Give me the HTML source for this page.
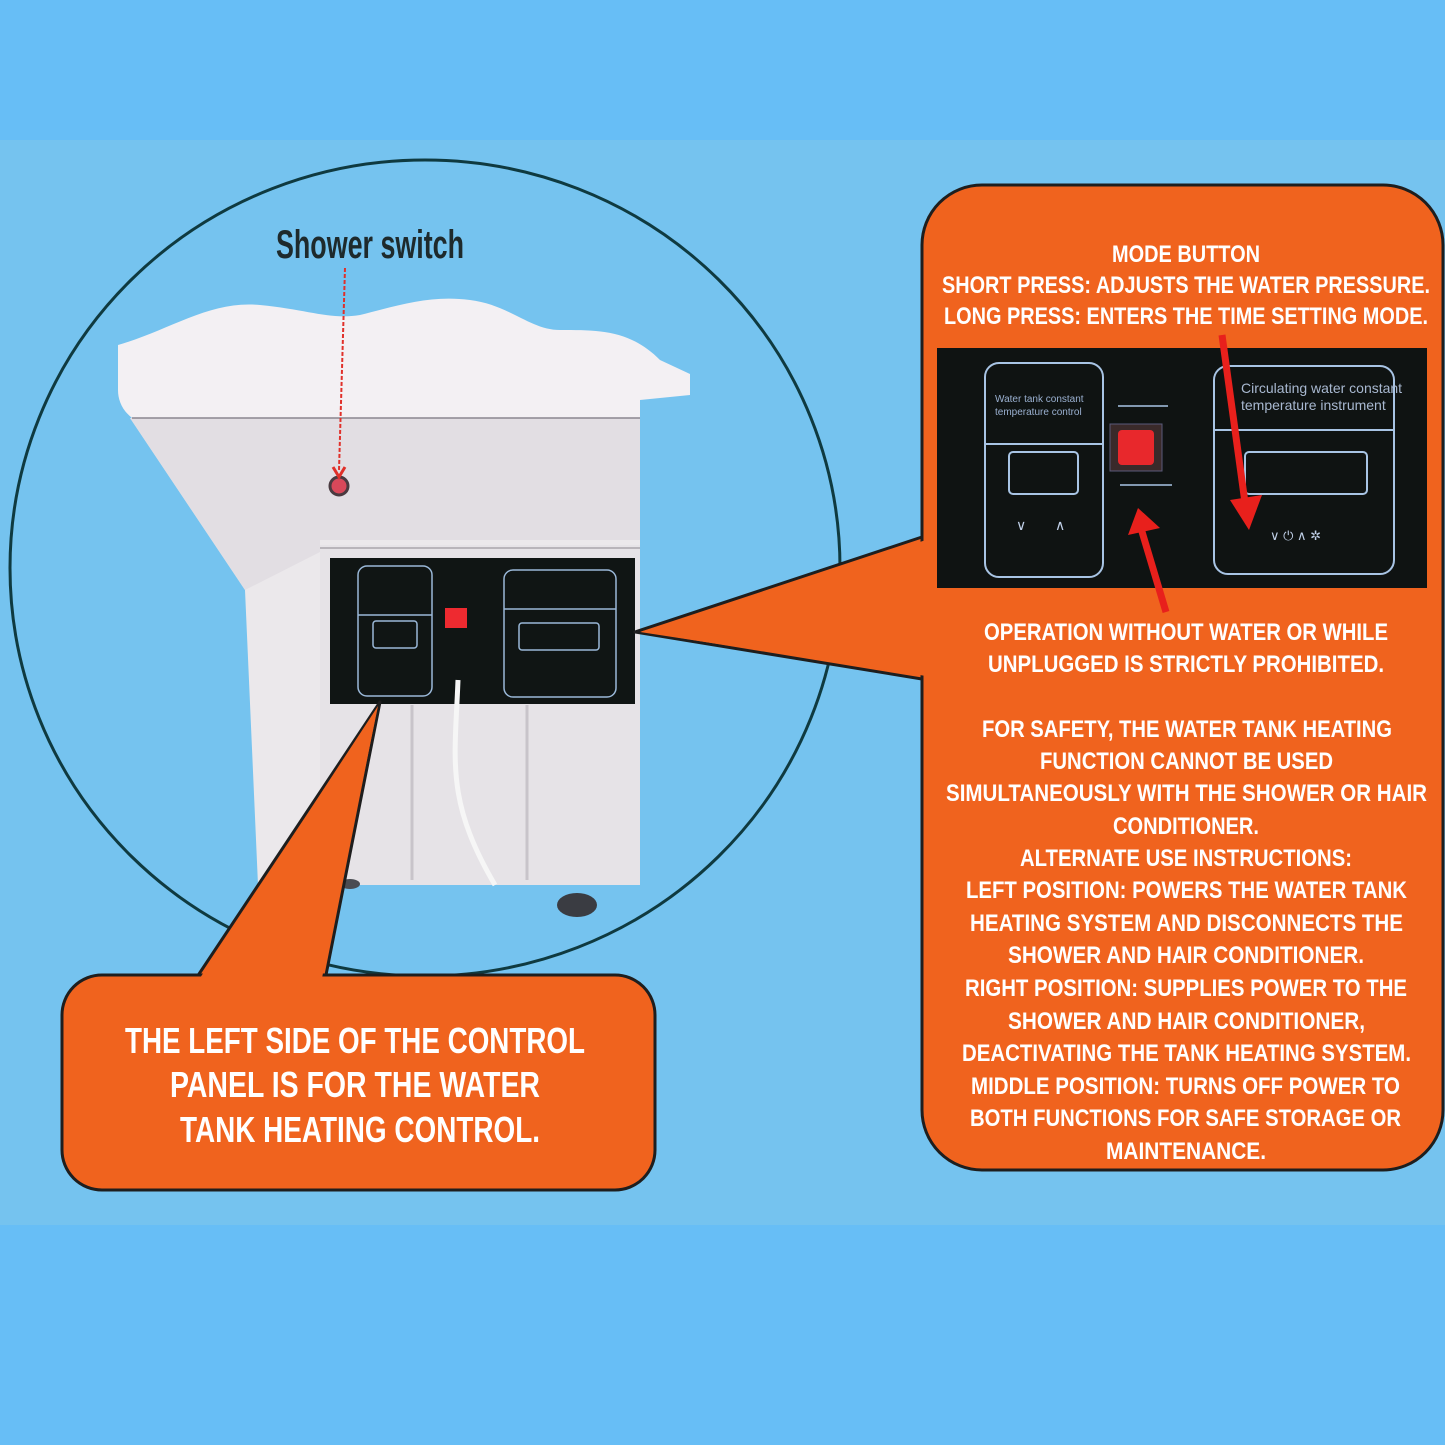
<!DOCTYPE html>
<html><head><meta charset="utf-8"><style>
html,body{margin:0;padding:0;}
body{width:1445px;height:1445px;overflow:hidden;background:#67bef6;}
svg{display:block;}
.w{fill:#fff;font-family:"Liberation Sans Narrow","Liberation Sans",sans-serif;font-weight:bold;}
</style></head><body>
<svg width="1445" height="1445" viewBox="0 0 1445 1445" xmlns="http://www.w3.org/2000/svg">
<rect x="0" y="0" width="1445" height="140" fill="#67bef6"/>
<rect x="0" y="140" width="1445" height="1085" fill="#75c3ef"/>
<rect x="0" y="1225" width="1445" height="220" fill="#67bef6"/>

<ellipse cx="425" cy="568" rx="415" ry="408" fill="none" stroke="#0f3a40" stroke-width="3"/>

<!-- machine body -->
<path d="M130,418 L245,590 L258,885 L640,885 L640,418 Z" fill="#ebe8eb"/>
<path d="M130,418 L640,418 L640,540 L320,540 L320,552 L245,590 Z" fill="#e2dee3"/>
<path d="M118,345 C170,330 210,300 260,305 C310,310 330,320 360,315 C400,305 430,295 470,300 C510,305 530,330 560,330 C600,330 630,330 660,360 L690,374 L690,395 L640,400 L640,418 L132,418 C122,410 118,400 118,390 Z" fill="#f3f0f3"/>
<path d="M132,418 L640,418" stroke="#8a8690" stroke-width="1.5"/>
<rect x="320" y="545" width="320" height="340" fill="#e6e3e7"/>
<line x1="320" y1="548" x2="640" y2="548" stroke="#b8b4ba" stroke-width="2"/>
<line x1="412" y1="705" x2="412" y2="880" stroke="#c8c4ca" stroke-width="3"/>
<line x1="527" y1="705" x2="527" y2="880" stroke="#c8c4ca" stroke-width="3"/>
<ellipse cx="577" cy="905" rx="20" ry="12" fill="#3a3c42"/>
<ellipse cx="350" cy="884" rx="10" ry="5" fill="#4a4c52"/>
<circle cx="339" cy="486" r="9" fill="#d8485a" stroke="#4a3a40" stroke-width="3"/>
<line x1="345" y1="268" x2="339" y2="470" stroke="#e0302a" stroke-width="2" stroke-dasharray="4,2"/>
<path d="M333,467 L339,477 L345,467" fill="none" stroke="#e0302a" stroke-width="3"/>
<text x="276" y="258" font-family="Liberation Sans Narrow,Liberation Sans,sans-serif" font-weight="bold" font-size="40" fill="#1e2a2c" textLength="188" lengthAdjust="spacingAndGlyphs">Shower switch</text>

<rect x="330" y="558" width="305" height="146" fill="#101514"/>
<rect x="358" y="566" width="74" height="130" rx="9" fill="none" stroke="#9ab8d8" stroke-width="1.5"/>
<line x1="358" y1="615" x2="432" y2="615" stroke="#9ab8d8" stroke-width="1.5"/>
<rect x="373" y="621" width="44" height="27" rx="3" fill="none" stroke="#9ab8d8" stroke-width="1.5"/>
<rect x="504" y="570" width="112" height="127" rx="9" fill="none" stroke="#9ab8d8" stroke-width="1.5"/>
<line x1="504" y1="609" x2="616" y2="609" stroke="#9ab8d8" stroke-width="1.5"/>
<rect x="519" y="623" width="80" height="27" rx="3" fill="none" stroke="#9ab8d8" stroke-width="1.5"/>
<rect x="445" y="608" width="22" height="20" fill="#ee2a30"/>
<path d="M458,680 C455,760 445,800 495,885" fill="none" stroke="#f6f6f6" stroke-width="5"/>

<path d="M195,980 L380,702 L325,980 Z" fill="#f0631e" stroke="#1e1e1e" stroke-width="3" stroke-linejoin="round"/>
<rect x="62" y="975" width="593" height="215" rx="40" fill="#f0631e" stroke="#1e1e1e" stroke-width="3"/>
<path d="M200,978 L378,706 L322,978 Z" fill="#f0631e"/>
<text class="w" x="125" y="1053" font-size="36" textLength="460" lengthAdjust="spacingAndGlyphs">THE LEFT SIDE OF THE CONTROL</text>
<text class="w" x="170" y="1097" font-size="36" textLength="370" lengthAdjust="spacingAndGlyphs">PANEL IS FOR THE WATER</text>
<text class="w" x="180" y="1142" font-size="36" textLength="360" lengthAdjust="spacingAndGlyphs">TANK HEATING CONTROL.</text>

<path d="M928,535 L635,632 L928,680 Z" fill="#f0631e" stroke="#1e1e1e" stroke-width="3" stroke-linejoin="round"/>
<rect x="922" y="185" width="521" height="985" rx="60" fill="#f0631e" stroke="#1e1e1e" stroke-width="3"/>
<path d="M926,540 L640,632 L926,676 Z" fill="#f0631e"/>

<rect x="937" y="348" width="490" height="240" fill="#0f1312"/>
<rect x="985" y="363" width="118" height="214" rx="14" fill="none" stroke="#a8c4e4" stroke-width="2"/>
<line x1="985" y1="444" x2="1103" y2="444" stroke="#a8c4e4" stroke-width="2"/>
<rect x="1009" y="452" width="69" height="42" rx="4" fill="none" stroke="#a8c4e4" stroke-width="2"/>
<rect x="1214" y="366" width="180" height="208" rx="14" fill="none" stroke="#a8c4e4" stroke-width="2"/>
<line x1="1214" y1="430" x2="1394" y2="430" stroke="#a8c4e4" stroke-width="2"/>
<rect x="1245" y="452" width="122" height="42" rx="4" fill="none" stroke="#a8c4e4" stroke-width="2"/>
<rect x="1110" y="424" width="52" height="47" fill="#3a2a2a" stroke="#5a5a7a"/>
<rect x="1118" y="430" width="36" height="35" rx="4" fill="#e8282c"/>
<line x1="1118" y1="406" x2="1168" y2="406" stroke="#a8c4e4" stroke-width="1.5"/>
<line x1="1120" y1="485" x2="1172" y2="485" stroke="#a8c4e4" stroke-width="1.5"/>
<text x="995" y="402" font-family="Liberation Sans,sans-serif" font-size="10" fill="#9ab0d0">Water tank constant</text>
<text x="995" y="415" font-family="Liberation Sans,sans-serif" font-size="10" fill="#9ab0d0">temperature control</text>
<text x="1241" y="393" font-family="Liberation Sans Narrow,Liberation Sans,sans-serif" font-size="14" fill="#a8b8d0">Circulating water constant</text>
<text x="1241" y="410" font-family="Liberation Sans Narrow,Liberation Sans,sans-serif" font-size="14" fill="#a8b8d0">temperature instrument</text>
<text x="1016" y="530" font-family="Liberation Sans,sans-serif" font-size="14" fill="#c0d0e8">∨</text>
<text x="1055" y="530" font-family="Liberation Sans,sans-serif" font-size="14" fill="#c0d0e8">∧</text>
<text x="1270" y="540" font-family="Liberation Sans,sans-serif" font-size="13" fill="#c0d0e8">∨   ⏻   ∧   ✲</text>
<path d="M1222,335 L1246,510" stroke="#e8201c" stroke-width="7"/>
<path d="M1230,500 L1249,530 L1262,495 Z" fill="#e8201c"/>
<path d="M1166,612 L1140,525" stroke="#e8201c" stroke-width="7"/>
<path d="M1128,535 L1138,508 L1160,528 Z" fill="#e8201c"/>

<g class="w" font-size="24">
<text x="1112" y="262" textLength="148" lengthAdjust="spacingAndGlyphs">MODE BUTTON</text>
<text x="942" y="293" textLength="488" lengthAdjust="spacingAndGlyphs">SHORT PRESS: ADJUSTS THE WATER PRESSURE.</text>
<text x="944" y="324" textLength="484" lengthAdjust="spacingAndGlyphs">LONG PRESS: ENTERS THE TIME SETTING MODE.</text>
<text x="984" y="640" textLength="404" lengthAdjust="spacingAndGlyphs">OPERATION WITHOUT WATER OR WHILE</text>
<text x="988" y="672" textLength="396" lengthAdjust="spacingAndGlyphs">UNPLUGGED IS STRICTLY PROHIBITED.</text>
<text x="982" y="737" textLength="410" lengthAdjust="spacingAndGlyphs">FOR SAFETY, THE WATER TANK HEATING</text>
<text x="1040" y="769" textLength="293" lengthAdjust="spacingAndGlyphs">FUNCTION CANNOT BE USED</text>
<text x="946" y="801" textLength="481" lengthAdjust="spacingAndGlyphs">SIMULTANEOUSLY WITH THE SHOWER OR HAIR</text>
<text x="1113" y="834" textLength="146" lengthAdjust="spacingAndGlyphs">CONDITIONER.</text>
<text x="1020" y="866" textLength="332" lengthAdjust="spacingAndGlyphs">ALTERNATE USE INSTRUCTIONS:</text>
<text x="966" y="898" textLength="441" lengthAdjust="spacingAndGlyphs">LEFT POSITION: POWERS THE WATER TANK</text>
<text x="970" y="931" textLength="433" lengthAdjust="spacingAndGlyphs">HEATING SYSTEM AND DISCONNECTS THE</text>
<text x="1008" y="963" textLength="356" lengthAdjust="spacingAndGlyphs">SHOWER AND HAIR CONDITIONER.</text>
<text x="965" y="996" textLength="442" lengthAdjust="spacingAndGlyphs">RIGHT POSITION: SUPPLIES POWER TO THE</text>
<text x="1008" y="1029" textLength="357" lengthAdjust="spacingAndGlyphs">SHOWER AND HAIR CONDITIONER,</text>
<text x="962" y="1061" textLength="449" lengthAdjust="spacingAndGlyphs">DEACTIVATING THE TANK HEATING SYSTEM.</text>
<text x="971" y="1094" textLength="429" lengthAdjust="spacingAndGlyphs">MIDDLE POSITION: TURNS OFF POWER TO</text>
<text x="970" y="1126" textLength="431" lengthAdjust="spacingAndGlyphs">BOTH FUNCTIONS FOR SAFE STORAGE OR</text>
<text x="1106" y="1159" textLength="160" lengthAdjust="spacingAndGlyphs">MAINTENANCE.</text>
</g>
</svg>
</body></html>
